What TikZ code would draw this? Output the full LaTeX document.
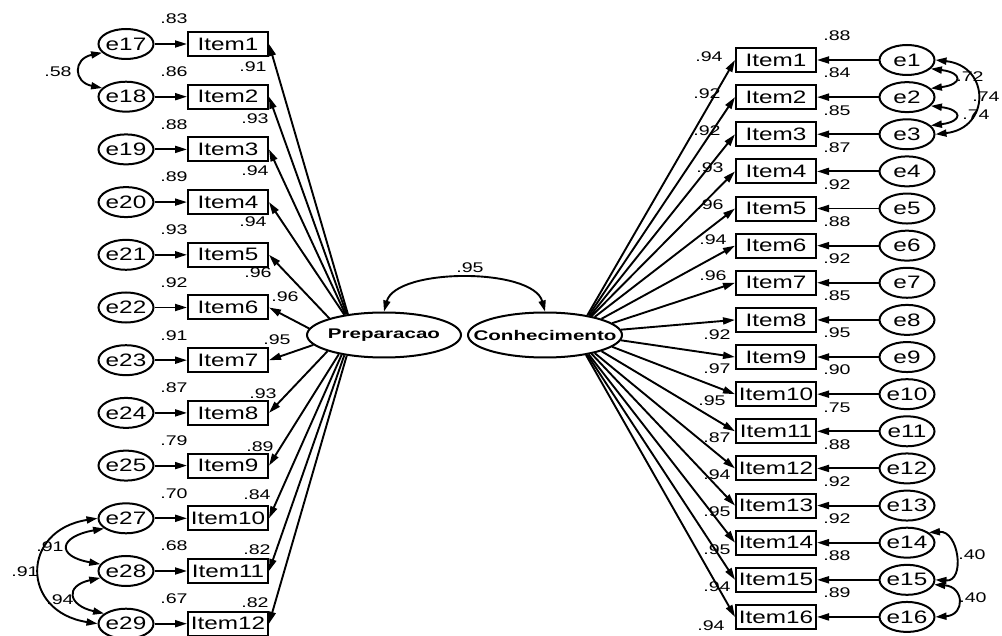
\documentclass[tikz,border=0pt]{standalone}
\usepackage{fontspec}
\setmainfont{Liberation Sans}
\usetikzlibrary{arrows.meta,shapes.geometric}
\newcommand{\hstr}[1]{\scalebox{1.35}[1]{#1}}
\newcommand{\nstr}[1]{\scalebox{1.4}[1]{#1}}
\newcommand{\lstr}[1]{\scalebox{1.47}[1]{#1}}
\tikzset{
  itembox/.style={draw, line width=2pt, minimum width=80pt, minimum height=24pt, inner sep=0pt, font=\fontsize{18}{18}\selectfont},
  errell/.style={draw, ellipse, line width=2pt, minimum width=55pt, minimum height=30pt, inner sep=0pt, font=\fontsize{18}{18}\selectfont},
  latent/.style={draw, ellipse, line width=2pt, minimum width=154pt, minimum height=45pt, inner sep=0pt, font=\bfseries\fontsize{14}{14}\selectfont},
  num/.style={inner sep=0pt, font=\fontsize{14}{14}\selectfont},
  arr/.style={line width=1.9pt, -{Triangle[length=12pt,width=7pt]}},
  cov/.style={line width=1.9pt, {Triangle[length=11pt,width=7pt]}-{Triangle[length=11pt,width=7pt]}},
}
\begin{document}
\begin{tikzpicture}[x=1pt,y=-1pt]
\fill[white] (0,0) rectangle (1002,636);
\useasboundingbox (0,0) rectangle (1002,636);

\node[latent] (prep) at (384,335) {\makebox[0pt]{\lstr{Preparacao}}};
\node[latent] (conh) at (545,335) {\makebox[0pt]{\lstr{Conhecimento}}};

% left side
\foreach \i/\e/\r/\l/\a/\lx/\ly in {
  1/17/.83/.91/150/253/67,
  2/18/.86/.93/151/255/119,
  3/19/.88/.94/152/255/171,
  4/20/.89/.94/153/253/222,
  5/21/.93/.96/163/258/273,
  6/22/.92/.96/175/285/297,
  7/23/.91/.95/188/277/340,
  8/24/.87/.93/196/263/394,
  9/25/.79/.89/203/260/447,
  10/27/.70/.84/205/257/495,
  11/28/.68/.82/207/257/550,
  12/29/.67/.82/209/255/603}{
  \pgfmathsetmacro{\yy}{44+52.7*(\i-1)}
  \node[itembox] (L\i) at (228,\yy) {\makebox[0pt]{\hstr{Item\i}}};
  \node[errell] (EL\i) at (126,\yy) {\makebox[0pt]{\hstr{e\e}}};
  \draw[arr] (EL\i) -- (L\i);
  \draw[arr] (prep.\a) -- (L\i.east);
  \node[num] at (174,\yy-25) {\nstr{\r}};
  \node[num] at (\lx,\ly) {\nstr{\l}};
}

% right side
\foreach \i/\r/\l/\a/\lx/\ly in {
  1/.88/.94/25/709/57,
  2/.84/.92/24/707/94,
  3/.85/.92/23/707/131,
  4/.87/.93/22/710/168,
  5/.92/.96/20/710/205,
  6/.88/.94/16/713/240,
  7/.92/.96/10/713/276,
  8/.85/.92/4/717/335,
  9/.95/.97/356/717/369,
  10/.90/.95/350/712/401,
  11/.75/.87/344/717/438,
  12/.88/.94/340/717/475,
  13/.92/.95/338/717/512,
  14/.92/.95/336/717/550,
  15/.88/.94/335/717/587,
  16/.89/.94/334/711/626}{
  \pgfmathsetmacro{\yy}{60+37.13*(\i-1)}
  \node[itembox] (R\i) at (776,\yy) {\makebox[0pt]{\hstr{Item\i}}};
  \node[errell] (ER\i) at (907,\yy) {\makebox[0pt]{\hstr{e\i}}};
  \draw[arr] (ER\i) -- (R\i);
  \draw[arr] (conh.\a) -- (R\i.west);
  \node[num] at (837,\yy-24) {\nstr{\r}};
  \node[num] at (\lx,\ly) {\nstr{\l}};
}

% covariances
\draw[cov] (prep.north) .. controls +(12,-44) and +(-12,-44) .. (conh.north);
\node[num] (c95) at (470,268) {\nstr{.95}};

\draw[cov] (EL1.200) .. controls +(-29,6) and +(-29,-6) .. (EL2.160);
\node[num] (c58) at (58,72) {\nstr{.58}};

\draw[cov] (EL10.180) .. controls +(-77,12) and +(-77,-12) .. (EL12.180);
\draw[cov] (EL10.205) .. controls +(-45,8) and +(-45,-8) .. (EL11.165);
\draw[cov] (EL11.195) .. controls +(-36,8) and +(-36,-8) .. (EL12.155);
\node[num] (c91a) at (50,547) {\nstr{.91}};
\node[num] (c91b) at (25,572) {\nstr{.91}};
\node[num] (c94) at (60,600) {\nstr{.94}};

\draw[cov] (ER1.340) .. controls +(32,4) and +(32,-4) .. (ER2.20);
\draw[cov] (ER1.0) .. controls +(55,6) and +(55,-6) .. (ER3.0);
\draw[cov] (ER2.340) .. controls +(32,4) and +(32,-4) .. (ER3.20);
\node[num] (c72) at (970,77) {\nstr{.72}};
\node[num] (c74a) at (986,97) {\nstr{.74}};
\node[num] (c74b) at (976,115) {\nstr{.74}};

\draw[cov] (ER14.25) .. controls +(30,-2) and +(30,2) .. (ER15.0);
\draw[cov] (ER15.350) .. controls +(30,2) and +(30,-2) .. (ER16.0);
\node[num] (c40a) at (972,555) {\nstr{.40}};
\node[num] (c40b) at (973,598) {\nstr{.40}};
\end{tikzpicture}
\end{document}
